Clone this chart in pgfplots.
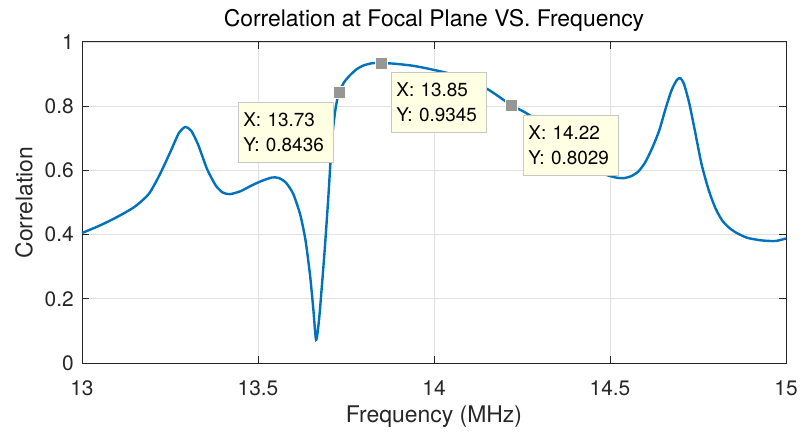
\documentclass[border=0pt]{standalone}
\usepackage{pgfplots}
\pgfplotsset{compat=1.18}
\usepackage{fontspec}
\setmainfont{TeX Gyre Heros}

\definecolor{mblue}{RGB}{0,114,189}
\definecolor{axgray}{RGB}{38,38,38}
\definecolor{gridgray}{RGB}{225,225,225}
\definecolor{tipfill}{RGB}{255,255,228}
\definecolor{tipedge}{RGB}{200,200,200}
\definecolor{tipmark}{RGB}{150,150,150}

\begin{document}
\begin{tikzpicture}
\begin{axis}[
  name=ax,
  scale only axis, width=704bp, height=321bp,
  xmin=13, xmax=15, ymin=0, ymax=1,
  xtick={13,13.5,14,14.5,15},
  ytick={0,0.2,0.4,0.6,0.8,1},
  /pgf/number format/assume math mode=true,
  tick align=inside, major tick length=7bp,
  axis line style={axgray, line width=1bp},
  tick style={axgray, line width=1bp},
  grid=major, major grid style={gridgray, line width=0.8bp},
  tick label style={font=\fontsize{21}{24}\selectfont, text=axgray, inner sep=0pt},
  xticklabel style={anchor=base, yshift=-32bp},
  yticklabel style={anchor=east, xshift=-8bp},
  title={Correlation at Focal Plane VS. Frequency},
  title style={at={(rel axis cs:0.5,1)}, anchor=base, yshift=9.5bp,
               font=\fontsize{23}{26}\selectfont, inner sep=0pt},
  xlabel={Frequency (MHz)},
  xlabel style={at={(rel axis cs:0.5,0)}, anchor=base, yshift=-59bp,
                font=\fontsize{23}{26}\selectfont, text=axgray, inner sep=0pt},
  ylabel={Correlation},
  % the label is turned by 90 degrees, so its local y points to the left
  ylabel style={at={(rel axis cs:0,0.5)}, anchor=center, yshift=58bp,
                font=\fontsize{23}{26}\selectfont, text=axgray, inner sep=0pt},
  clip=false,
]
% correlation curve
\addplot[mblue, line width=2.4bp, smooth, tension=0.4] coordinates {
  (13.000,0.405) (13.050,0.428) (13.100,0.455) (13.150,0.487) (13.190,0.527)
  (13.220,0.585) (13.250,0.655) (13.275,0.716) (13.293,0.735) (13.310,0.724)
  (13.330,0.680) (13.355,0.605) (13.380,0.553) (13.400,0.531) (13.420,0.526)
  (13.450,0.535) (13.480,0.552) (13.510,0.567) (13.540,0.578) (13.560,0.576)
  (13.580,0.561) (13.600,0.527) (13.620,0.462) (13.635,0.382) (13.648,0.272)
  (13.657,0.170) (13.665,0.072) (13.673,0.130) (13.680,0.220) (13.690,0.360)
  (13.700,0.520) (13.710,0.695) (13.720,0.790) (13.730,0.8436) (13.745,0.875)
  (13.760,0.895) (13.780,0.915) (13.800,0.927) (13.825,0.934) (13.850,0.9345)
  (13.880,0.933) (13.910,0.930) (13.940,0.926) (13.970,0.920) (14.000,0.913)
  (14.040,0.903) (14.080,0.890) (14.120,0.871) (14.160,0.848) (14.220,0.8029)
  (14.260,0.780) (14.300,0.750) (14.350,0.705) (14.400,0.655) (14.450,0.610)
  (14.490,0.586) (14.520,0.577) (14.540,0.576) (14.560,0.582) (14.580,0.596)
  (14.600,0.625) (14.620,0.670) (14.640,0.725) (14.660,0.800) (14.675,0.850)
  (14.690,0.882) (14.700,0.887) (14.710,0.870) (14.725,0.810) (14.740,0.730)
  (14.760,0.620) (14.780,0.540) (14.800,0.481) (14.820,0.442) (14.840,0.420)
  (14.860,0.405) (14.890,0.390) (14.930,0.382) (14.970,0.380) (15.000,0.388)
};
% data tip boxes
\tikzset{tip/.style={anchor=north west, fill=tipfill, draw=tipedge, line width=0.8bp,
  text width=85bp, inner sep=5bp, minimum height=60bp, align=left,
  font=\fontsize{19}{25.7}\selectfont}}
\node[tip] at (axis cs:13.443,0.813) {X: 13.73\\Y: 0.8436};
\node[tip] at (axis cs:13.878,0.907) {X: 13.85\\Y: 0.9345};
\node[tip] at (axis cs:14.253,0.773) {X: 14.22\\Y: 0.8029};
% data tip markers
\addplot[only marks, mark=square*, mark size=6bp,
  mark options={fill=tipmark, draw=tipfill, line width=0.8bp}]
  coordinates {(13.73,0.8436) (13.85,0.9345) (14.22,0.8029)};
\end{axis}
\pgfresetboundingbox
\path[use as bounding box] ([xshift=-82bp,yshift=-70bp]ax.south west)
  rectangle ([xshift=15bp,yshift=42bp]ax.north east);
\end{tikzpicture}
\end{document}
